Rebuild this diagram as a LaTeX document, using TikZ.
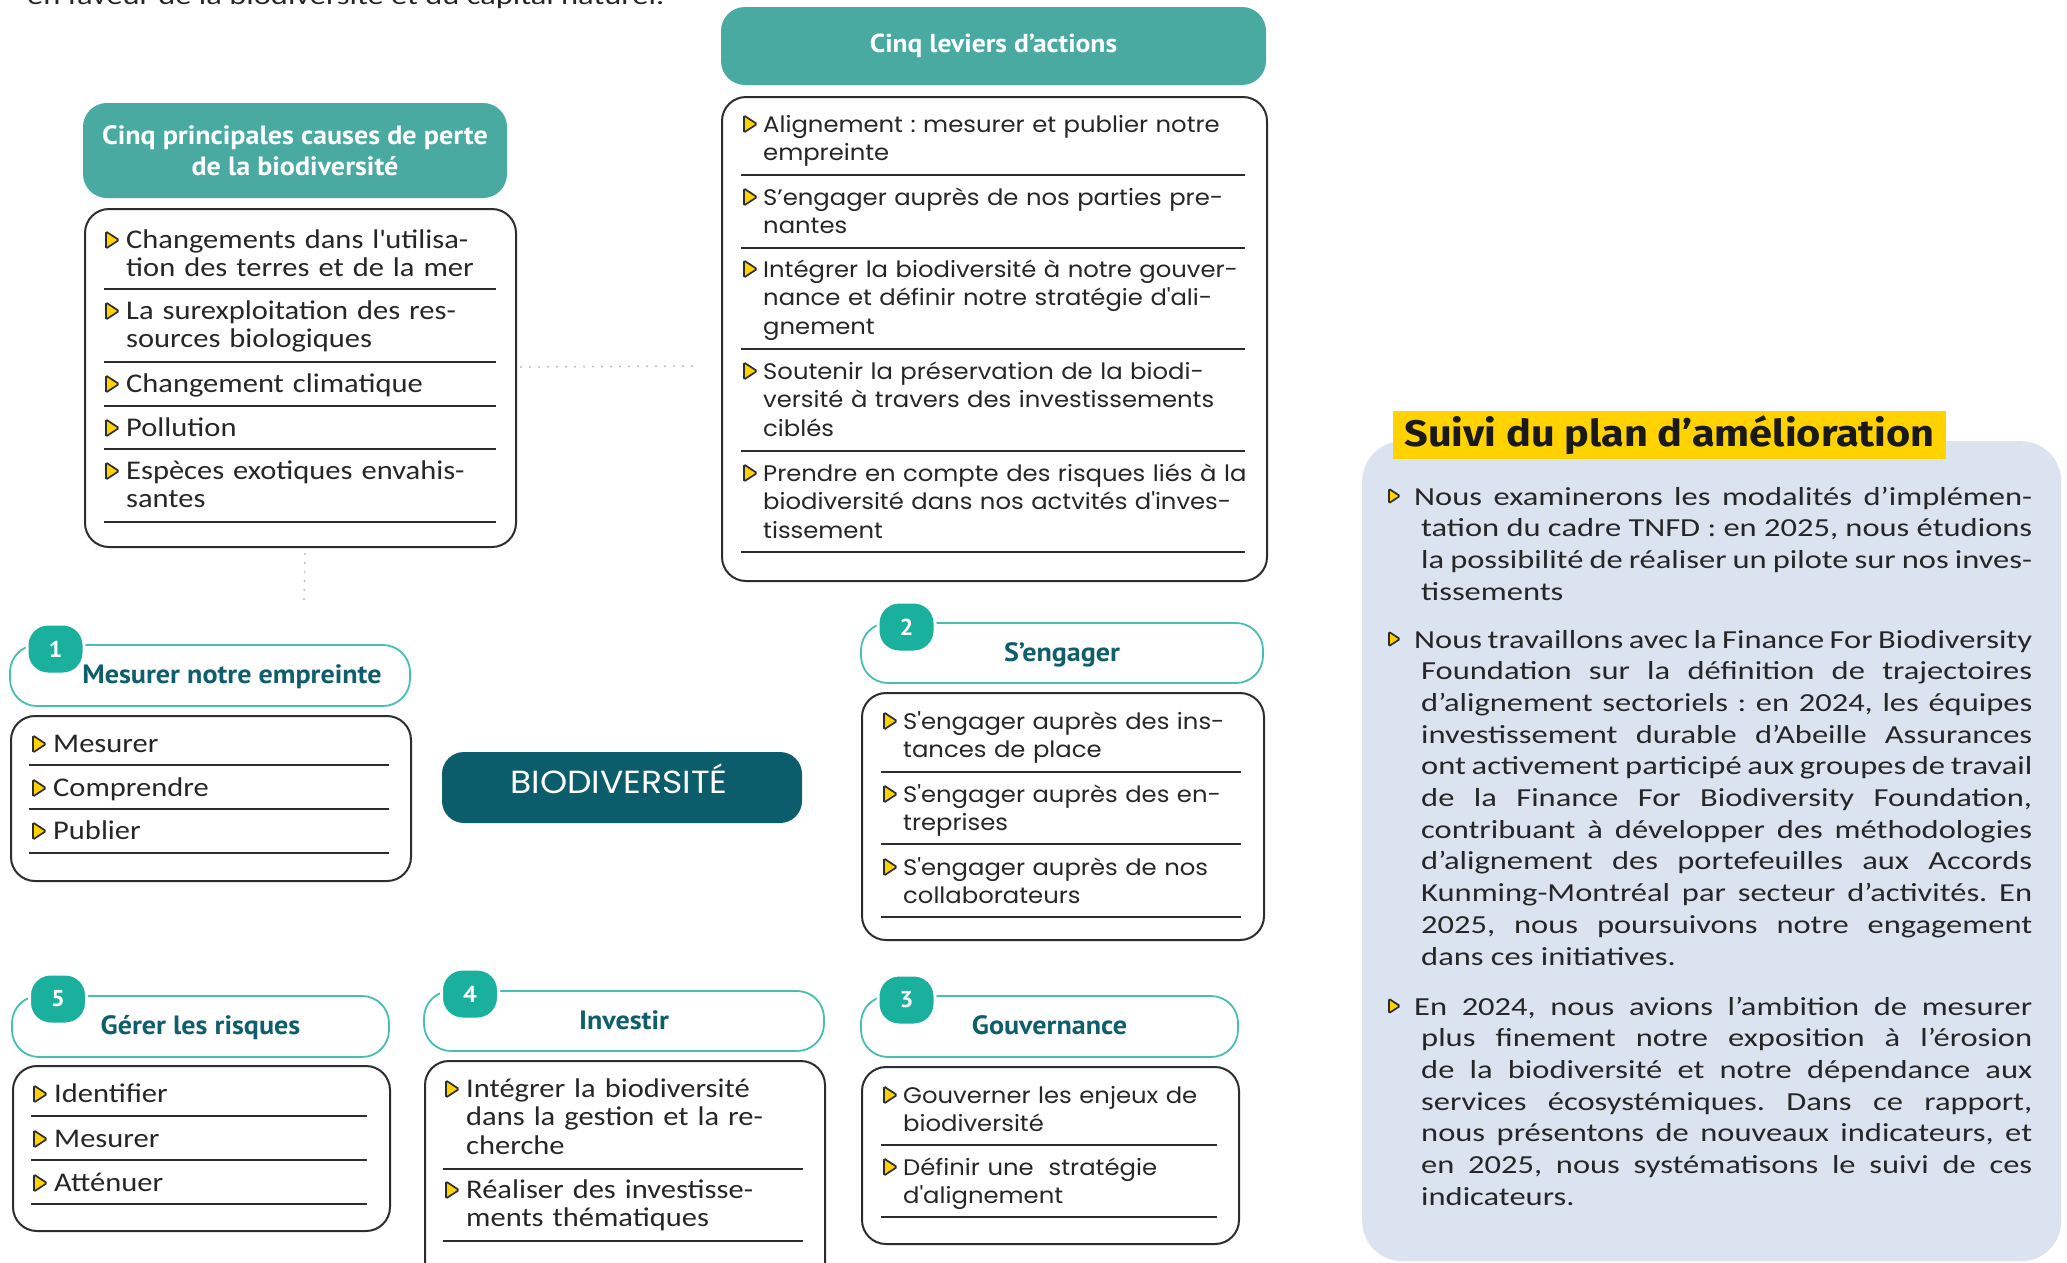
\documentclass[tikz,border=0pt]{standalone}
\usepackage{fontspec}
\setmainfont{Carlito}[FakeStretch=1.13]
\newfontfamily\panelfont{Carlito}[FakeStretch=1.25]
\newfontfamily\geofont{Poppins}[FakeStretch=1.08]
\newfontfamily\titrefont{PT Sans}[FakeStretch=1.06]
\newfontfamily\grasfont{Fira Sans}[FakeStretch=1.12]
\usetikzlibrary{positioning}

\definecolor{tealhead}{RGB}{72,170,161}
\definecolor{tealbadge}{RGB}{25,176,158}
\definecolor{tealring}{RGB}{70,190,178}
\definecolor{tealdark}{RGB}{14,94,107}
\definecolor{biofill}{RGB}{12,93,108}
\definecolor{jaune}{RGB}{255,210,0}
\definecolor{panelbleu}{RGB}{218,227,239}
\definecolor{trait}{RGB}{45,45,45}
\definecolor{pointgris}{RGB}{185,185,185}
\definecolor{texte}{RGB}{38,38,38}

\newcommand{\sq}{\textquotesingle}
\tolerance=9999
\hbadness=10000
\exhyphenpenalty=10000
\frenchspacing

\begin{document}
\begin{tikzpicture}[
  x=1pt, y=-1pt,
  every node/.style={inner sep=0pt},
  entete/.style ={rectangle, rounded corners=24pt, fill=tealhead, text=white, align=center, font=\titrefont\bfseries\fontsize{26.5}{31}\selectfont},
  liste/.style  ={rectangle, rounded corners=24pt, draw=trait, line width=2pt, anchor=north west},
  cadre/.style  ={rectangle, rounded corners=27pt, draw=tealring, line width=1.8pt},
  badge/.style  ={rectangle, rounded corners=21pt, fill=tealbadge, draw=white, line width=3pt, minimum width=57pt, minimum height=50pt, text=white, font=\titrefont\bfseries\fontsize{23}{23}\selectfont},
  etiq/.style   ={anchor=base, yshift=-8pt, text=tealdark, font=\titrefont\bfseries\fontsize{26.5}{26.5}\selectfont},
  itemh/.style  ={anchor=base west, text=texte, text width=420pt, align=left, font=\fontsize{27}{28.6}\selectfont},
  itemg/.style  ={anchor=base west, text=texte, text width=520pt, align=left, font=\geofont\fontsize{22.5}{28.6}\selectfont},
  para/.style   ={anchor=base west, text=texte, text width=611pt, align=justify, font=\panelfont\fontsize{26}{31.7}\selectfont},
  sep/.style    ={draw=trait, line width=1.6pt},
  pointille/.style={draw=pointgris, line width=2.2pt, line cap=round, dash pattern=on 0pt off 9pt},
  puce/.pic={\filldraw[fill=jaune, draw=trait, line width=1.7pt, rounded corners=1.4pt] (-6,-8.5) -- (7,0) -- (-6,8.5) -- cycle;}
]
\useasboundingbox (0,0) rectangle (2067,1262);
\clip (0,0) rectangle (2067,1262);

% ---- chapeau (coupé en haut) ----
\node[anchor=base west, text=texte, font=\panelfont\fontsize{26}{30}\selectfont] (chapeau) at (27,4) {en faveur de la biodiversité et du capital naturel.};

% ---- CAUSES (haut gauche) ----
\node[entete, minimum width=424pt, minimum height=95pt] (titrecauses) at (295,150.5) {Cinq principales causes de perte\\de la biodiversité};
\node[liste, minimum width=431pt, minimum height=338pt] (causes) at (84,208) {};
\foreach \yy/\txt [count=\i] in {248/{Changements dans l\sq utilisa-\\tion des terres et de la mer},
    319/{La surexploitation des res-\\sources biologiques}, 392/{Changement climatique},
    436/{Pollution}, 479/{Espèces exotiques envahis-\\santes}}{
  \pic at (112,\yy-8) {puce};
  \node[itemh] (cause\i) at (126,\yy) {\txt};
}
\foreach \yy in {289,362,406,449,522} \draw[sep] (104,\yy) -- (496,\yy);

% ---- LEVIERS (haut milieu) ----
\node[entete, minimum width=545pt, minimum height=78pt, font=\titrefont\bfseries\fontsize{26}{28}\selectfont] (titreleviers) at (993.5,46) {Cinq leviers d’actions};
\node[liste, minimum width=545pt, minimum height=484pt] (leviers) at (721,96) {};
\foreach \yy/\txt [count=\i] in {132/{Alignement : mesurer et publier notre\\empreinte},
    205/{S’engager auprès de nos parties pre-\\nantes},
    277/{Intégrer la biodiversité à notre gouver-\\nance et définir notre stratégie d\sq ali-\\gnement},
    379/{Soutenir la préservation de la biodi-\\versité à travers des investissements\\ciblés},
    481/{Prendre en compte des risques liés à la\\biodiversité dans nos actvités d\sq inves-\\tissement}}{
  \pic at (750,\yy-8) {puce};
  \node[itemg] (levier\i) at (763,\yy) {\txt};
}
\foreach \yy in {175,248,349,451,552} \draw[sep] (741,\yy) -- (1245,\yy);

% liens pointillés
\coordinate (finh) at (695,366);
\coordinate (finv) at (304,600);
\draw[pointille] ([xshift=4pt,yshift=11pt]causes.east) -- (finh);
\draw[pointille] ([xshift=4.5pt,yshift=-6pt]causes.south) -- (finv);

% ---- 1 : mesurer ----
\node[cadre, minimum width=400pt, minimum height=61pt] (h1) at (210,675.5) {};
\node[badge] (n1) at (55.5,649) {1};
\node[etiq, xshift=22pt] (t1) at (h1.center) {Mesurer notre empreinte};
\node[liste, minimum width=400pt, minimum height=165pt] (l1) at (10,715) {};
\foreach \yy/\txt [count=\i] in {752/Mesurer, 796/Comprendre, 839/Publier}{
  \pic at (39,\yy-8) {puce};
  \node[itemh] (mes\i) at (53,\yy) {\txt};
}
\foreach \yy in {765,809,853} \draw[sep] (29,\yy) -- (389,\yy);

% ---- BIODIVERSITÉ ----
\node[rectangle, rounded corners=22pt, fill=biofill, minimum width=360pt, minimum height=71pt] (bio) at (622,787.5) {};
\node[anchor=base, text=white, font=\geofont\fontsize{32}{32}\selectfont] (biotexte) at ([xshift=-3pt,yshift=-5.5pt]bio.center) {BIODIVERSITÉ};

% ---- 2 : s'engager ----
\node[cadre, minimum width=402pt, minimum height=60pt] (h2) at (1062,653) {};
\node[badge] (n2) at (906.5,627) {2};
\node[etiq] (t2) at (h2.center) {S’engager};
\node[liste, minimum width=402pt, minimum height=247pt] (l2) at (861,692) {};
\foreach \yy/\txt [count=\i] in {729/{S\sq engager auprès des ins-\\tances de place},
    802/{S\sq engager auprès des en-\\treprises}, 875/{S\sq engager auprès de nos\\collaborateurs}}{
  \pic at (890,\yy-8) {puce};
  \node[itemg] (eng\i) at (903,\yy) {\txt};
}
\foreach \yy in {772,844,917} \draw[sep] (881,\yy) -- (1241,\yy);

% ---- 5 : gérer les risques ----
\node[cadre, minimum width=377pt, minimum height=61pt] (h5) at (200.5,1026.5) {};
\node[badge] (n5) at (58,999) {5};
\node[etiq] (t5) at (h5.center) {Gérer les risques};
\node[liste, minimum width=377pt, minimum height=165pt] (l5) at (12,1065) {};
\foreach \yy/\txt [count=\i] in {1102/Identifier, 1147/Mesurer, 1191/Atténuer}{
  \pic at (40,\yy-8) {puce};
  \node[itemh] (risq\i) at (54,\yy) {\txt};
}
\foreach \yy in {1116,1160,1204} \draw[sep] (31,\yy) -- (367,\yy);

% ---- 4 : investir ----
\node[cadre, minimum width=400pt, minimum height=60pt] (h4) at (624,1021) {};
\node[badge] (n4) at (470,994) {4};
\node[etiq] (t4) at (h4.center) {Investir};
\node[liste, minimum width=400pt, minimum height=240pt] (l4) at (424,1060) {};
\foreach \yy/\txt [count=\i] in {1097/{Intégrer la biodiversité\\dans la gestion et la re-\\cherche},
    1198/{Réaliser des investisse-\\ments thématiques}}{
  \pic at (452,\yy-8) {puce};
  \node[itemh] (inv\i) at (466,\yy) {\txt};
}
\foreach \yy in {1169,1241} \draw[sep] (443,\yy) -- (803,\yy);

% ---- 3 : gouvernance ----
\node[cadre, minimum width=377pt, minimum height=61pt] (h3) at (1049.5,1026.5) {};
\node[badge] (n3) at (906.5,1000) {3};
\node[etiq] (t3) at (h3.center) {Gouvernance};
\node[liste, minimum width=377pt, minimum height=177pt] (l3) at (861,1066) {};
\foreach \yy/\txt [count=\i] in {1103/{Gouverner les enjeux de\\biodiversité},
    1175/{Définir une\ \ stratégie\\d\sq alignement}}{
  \pic at (890,\yy-8) {puce};
  \node[itemg] (gouv\i) at (903,\yy) {\txt};
}
\foreach \yy in {1145,1217} \draw[sep] (881,\yy) -- (1217,\yy);

% ---- SUIVI DU PLAN (droite) ----
\node[rectangle, rounded corners=40pt, fill=panelbleu, minimum width=699pt, minimum height=820pt, anchor=north west] (suivi) at (1362,441) {};
\node[rectangle, fill=jaune, minimum width=553pt, minimum height=48pt, text=black!90, font=\grasfont\bfseries\fontsize{37}{37}\selectfont] (titresuivi) at (1669.5,435) {Suivi du plan d’amélioration};
\foreach \yy in {505,648,1015} \pic[scale=0.85] at (1394,\yy-9) {puce};
\node[para] (p1) at (1421,505) {\hspace*{-7pt}Nous examinerons les modalités d’implémen-\linebreak
  tation du cadre TNFD : en 2025, nous étudions\linebreak
  la possibilité de réaliser un pilote sur nos inves-\linebreak
  tissements};
\node[para] (p2) at (1421,648) {\hspace*{-7pt}Nous travaillons avec la Finance For Biodiversity\linebreak
  Foundation sur la définition de trajectoires\linebreak
  d’alignement sectoriels : en 2024, les équipes\linebreak
  investissement durable d’Abeille Assurances\linebreak
  ont activement participé aux groupes de travail\linebreak
  de la Finance For Biodiversity Foundation,\linebreak
  contribuant à développer des méthodologies\linebreak
  d’alignement des portefeuilles aux Accords\linebreak
  Kunming-Montréal par secteur d’activités. En\linebreak
  2025, nous poursuivons notre engagement\linebreak
  dans ces initiatives.};
\node[para] (p3) at (1421,1015) {\hspace*{-7pt}En 2024, nous avions l’ambition de mesurer\linebreak
  plus finement notre exposition à l’érosion\linebreak
  de la biodiversité et notre dépendance aux\linebreak
  services écosystémiques. Dans ce rapport,\linebreak
  nous présentons de nouveaux indicateurs, et\linebreak
  en 2025, nous systématisons le suivi de ces\linebreak
  indicateurs.};

\end{tikzpicture}
\end{document}
